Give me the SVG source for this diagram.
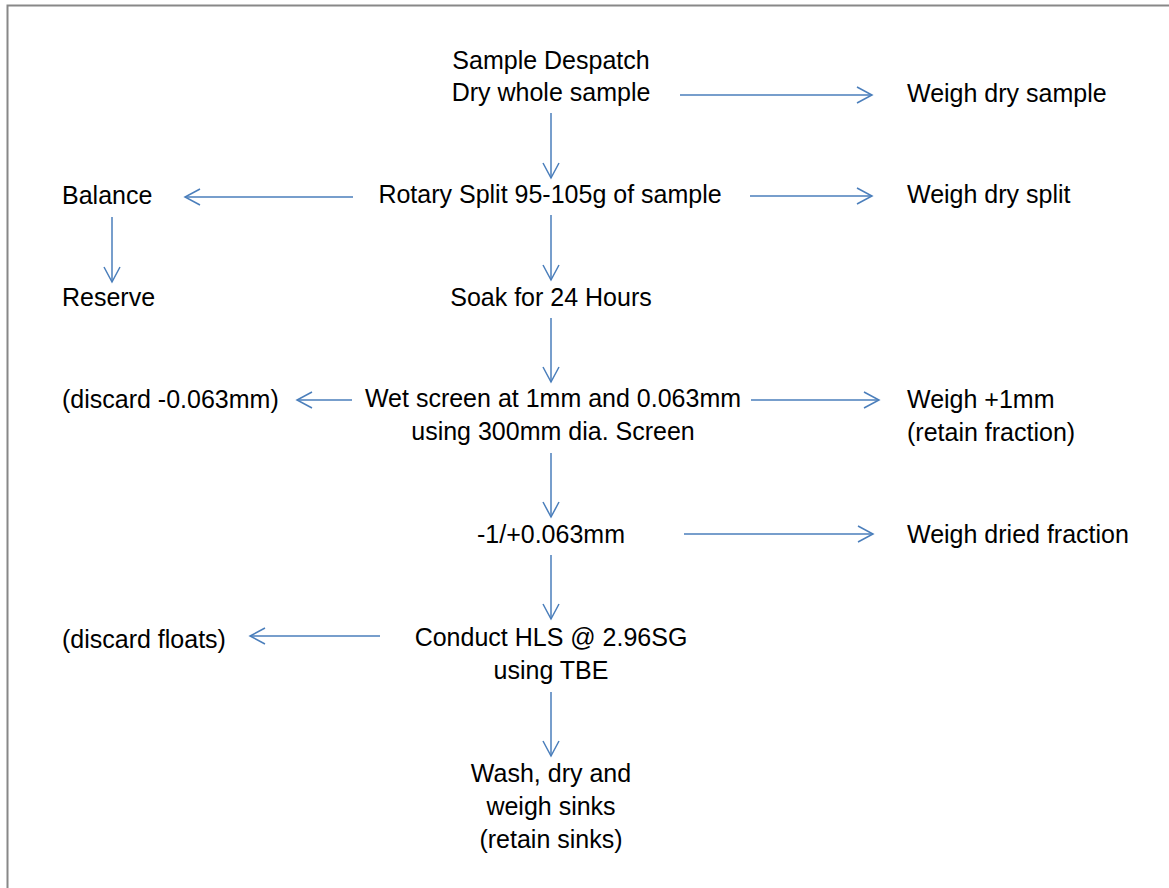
<svg xmlns="http://www.w3.org/2000/svg" width="1169" height="888" viewBox="0 0 1169 888">
<style>
text{font-family:"Liberation Sans",Arial,sans-serif;font-size:25px;fill:#000}
.c{text-anchor:middle}
.ln{stroke:#4A7EBB;stroke-width:1.5;fill:none;marker-end:url(#ah)}
</style>
<defs>
<marker id="ah" markerUnits="userSpaceOnUse" markerWidth="20" markerHeight="20" refX="0" refY="0" orient="auto" overflow="visible">
<path d="M-15,-8 L0,0 L-15,8" fill="none" stroke="#4A7EBB" stroke-width="1.5"/>
</marker>
</defs>
<rect width="1169" height="888" fill="#fff"/>
<path d="M7.5,900 V5.5 H1180" fill="none" stroke="#888" stroke-width="2"/>
<g id="connectors">
<line class="ln" x1="680" y1="95" x2="872" y2="95"/>
<line class="ln" x1="551" y1="113" x2="551" y2="178"/>
<line class="ln" x1="353" y1="197" x2="185" y2="197"/>
<line class="ln" x1="750" y1="196" x2="872" y2="196"/>
<line class="ln" x1="112" y1="217" x2="112" y2="282"/>
<line class="ln" x1="551" y1="215" x2="551" y2="280"/>
<line class="ln" x1="551" y1="318" x2="551" y2="382"/>
<line class="ln" x1="352" y1="400" x2="297" y2="400"/>
<line class="ln" x1="751" y1="400" x2="879" y2="400"/>
<line class="ln" x1="551" y1="453" x2="551" y2="517"/>
<line class="ln" x1="684" y1="534" x2="873" y2="534"/>
<line class="ln" x1="551" y1="555" x2="551" y2="619"/>
<line class="ln" x1="380" y1="636" x2="250" y2="636"/>
<line class="ln" x1="551" y1="692" x2="551" y2="756"/>
</g>
<g id="n-despatch"><text class="c" x="551" y="69">Sample Despatch</text><text class="c" x="551" y="101">Dry whole sample</text></g>
<g id="n-weigh-dry-sample"><text x="907" y="102">Weigh dry sample</text></g>
<g id="n-rotary"><text class="c" x="550" y="203">Rotary Split 95-105g of sample</text></g>
<g id="n-balance"><text x="62" y="204">Balance</text></g>
<g id="n-weigh-dry-split"><text x="907" y="203">Weigh dry split</text></g>
<g id="n-reserve"><text x="62" y="306">Reserve</text></g>
<g id="n-soak"><text class="c" x="551" y="306">Soak for 24 Hours</text></g>
<g id="n-wet"><text class="c" x="553" y="407">Wet screen at 1mm and 0.063mm</text><text class="c" x="553" y="440">using 300mm dia. Screen</text></g>
<g id="n-discard-fine"><text x="62" y="408">(discard -0.063mm)</text></g>
<g id="n-weigh-1mm"><text x="907" y="408">Weigh +1mm</text><text x="907" y="441">(retain fraction)</text></g>
<g id="n-fraction"><text class="c" x="551" y="543">-1/+0.063mm</text></g>
<g id="n-weigh-dried"><text x="907" y="543">Weigh dried fraction</text></g>
<g id="n-hls"><text class="c" x="551" y="646">Conduct HLS @ 2.96SG</text><text class="c" x="551" y="679">using TBE</text></g>
<g id="n-discard-floats"><text x="62" y="648">(discard floats)</text></g>
<g id="n-sinks"><text class="c" x="551" y="782">Wash, dry and</text><text class="c" x="551" y="815">weigh sinks</text><text class="c" x="551" y="848">(retain sinks)</text></g>
</svg>
